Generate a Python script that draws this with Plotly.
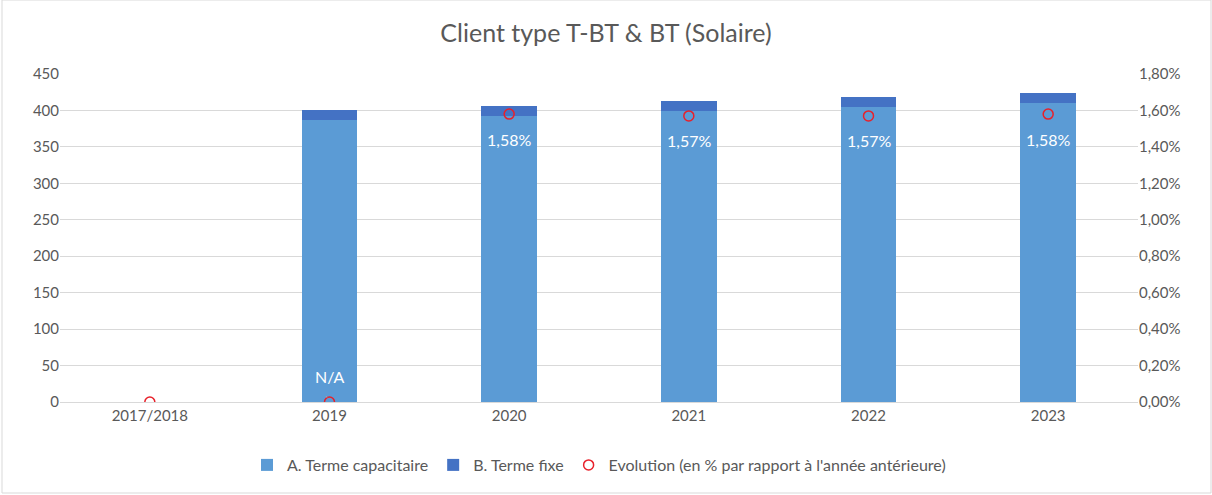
import plotly.graph_objects as go

categories = ["2017/2018", "2019", "2020", "2021", "2022", "2023"]
terme_capacitaire = [0, 387, 392, 399, 405, 410]
terme_fixe = [0, 13, 14, 14, 14, 14]
evolution = [0.0, 0.0, 0.0158, 0.0157, 0.0157, 0.0158]
evolution_labels = ["", "N/A", "1,58%", "1,57%", "1,57%", "1,58%"]
label_offsets = [0, 26, -25, -25, -25, -25]

W, H = 1212, 495
ml, mr, mt, mb = 60, 74, 74, 93
pw, ph = W - ml - mr, H - mt - mb

grey = "#595959"
font_family = "Lato, 'Open Sans', sans-serif"

fig = go.Figure()
fig.add_trace(go.Bar(
    x=categories, y=terme_capacitaire, name="A. Terme capacitaire",
    marker=dict(color="#5B9BD5", line=dict(width=0)), width=0.31,
))
fig.add_trace(go.Bar(
    x=categories, y=terme_fixe, name="B. Terme fixe",
    marker=dict(color="#4472C4", line=dict(width=0)), width=0.31,
))
fig.add_trace(go.Scatter(
    x=categories, y=evolution, name="Evolution (en % par rapport à l'année antérieure)",
    mode="markers", yaxis="y2",
    marker=dict(symbol="circle-open", color="#E8202A", size=10, line=dict(width=1.5)),
))

annotations = []
# category axis: annotations are placed by category index
for i, (val, lab, off) in enumerate(zip(evolution, evolution_labels, label_offsets)):
    if lab:
        annotations.append(dict(
            x=i, y=val, xref="x", yref="y2", text=lab, showarrow=False,
            yshift=off, font=dict(color="white", size=16, family=font_family),
        ))
# leader lines (Excel data-label callouts)
annotations.append(dict(x=0, y=evolution[0], xref="x", yref="y2", text=" ",
                        showarrow=True, ax=1, ay=-14, axref="pixel", ayref="pixel",
                        arrowhead=0, arrowwidth=1, arrowcolor="#A6A6A6", standoff=4))
annotations.append(dict(x=1, y=evolution[1], xref="x", yref="y2", text=" ",
                        showarrow=True, ax=-7, ay=-12, axref="pixel", ayref="pixel",
                        arrowhead=0, arrowwidth=1, arrowcolor="#A6A6A6", standoff=5))

fig.update_layout(
    width=W, height=H,
    margin=dict(l=ml, r=mr, t=mt, b=mb),
    paper_bgcolor="white", plot_bgcolor="white",
    barmode="stack", separators=", ",
    font=dict(family=font_family, color=grey, size=15),
    title=dict(text="Client type T-BT & BT (Solaire)", x=0.5, xanchor="center",
               y=1 - 33 / H, yanchor="middle", font=dict(size=25, color=grey)),
    xaxis=dict(type="category", range=[-0.5, len(categories) - 0.5], autorange=False,
               showgrid=False, showline=True, linecolor="#D9D9D9", linewidth=1,
               ticks="", tickfont=dict(size=15, color=grey)),
    yaxis=dict(range=[0, 450], dtick=50, showgrid=True, gridcolor="#D9D9D9",
               zeroline=False, ticks="", tickfont=dict(size=15, color=grey),
               showline=False),
    yaxis2=dict(range=[0, 0.018], dtick=0.002, tickformat=".2%", overlaying="y",
                side="right", showgrid=False, zeroline=False, ticks="",
                tickfont=dict(size=15, color=grey)),
    legend=dict(orientation="h", x=0.5, xanchor="center", y=-(465 - 402) / ph,
                yanchor="middle", font=dict(size=16, color=grey),
                traceorder="normal", itemwidth=30),
    annotations=annotations,
    shapes=[dict(type="rect", xref="paper", yref="paper",
                 x0=-(ml - 2) / pw, x1=1 + (mr - 1) / pw,
                 y0=-(mb - 2) / ph, y1=1 + mt / ph,
                 line=dict(color="#D9D9D9", width=1), fillcolor="rgba(0,0,0,0)")],
)

fig.write_html("out.html", config={"displayModeBar": False},
               post_script="document.body.style.margin='0';")
